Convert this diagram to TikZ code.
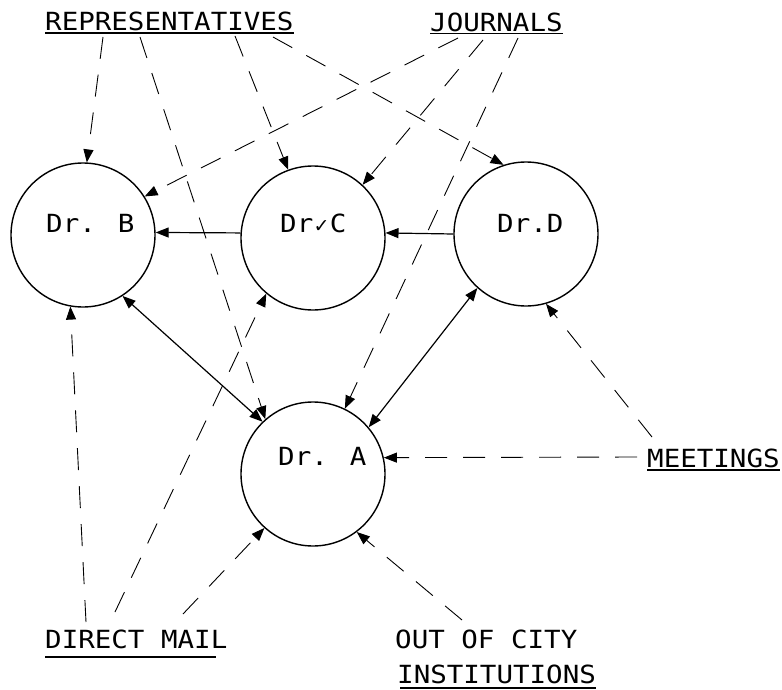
\documentclass[tikz,border=0pt]{standalone}
\usepackage{fontspec}
\newfontfamily\plotfont{DejaVu Sans Mono}[FakeStretch=1.1]
\newfontfamily\checkfont{DejaVu Sans}
\usetikzlibrary{arrows.meta}
\begin{document}
\begin{tikzpicture}[x=1pt,y=-1pt,
  doc/.style={circle,draw,line width=1.4pt,minimum size=144pt,inner sep=0pt},
  lbl/.style={font=\plotfont\fontsize{25}{30}\selectfont,inner sep=0pt,anchor=base west},
  tip/.style={},
  src/.style={line width=0.9pt,dash pattern=on 22pt off 16pt,-{Triangle[length=13pt,width=10pt]}},
  link/.style={line width=1.2pt,-{Triangle[length=13pt,width=10pt]}},
  both/.style={line width=1.2pt,{Triangle[length=13pt,width=10pt]}-{Triangle[length=13pt,width=10pt]}},
  uline/.style={line width=1.1pt}]
\useasboundingbox (0,0) rectangle (782,690);
% doctors
\node[doc] (B) at (83,235) {};
\node[doc] (C) at (313,238) {};
\node[doc] (D) at (526,234) {};
\node[doc] (A) at (313,474) {};
\node[lbl] (tB) at (46,232) {Dr. B};
\node[lbl] (tC) at (280,232) {Dr\makebox[16.5pt]{\checkfont\fontsize{19}{19}\selectfont ✓}C};
\node[lbl] (tD) at (497,232) {Dr.D};
\node[lbl] (tA) at (278,465) {Dr. A};
% sources
\node[lbl] (rep) at (45,31) {REPRESENTATIVES};
\node[lbl] (jour) at (430,32) {JOURNALS};
\node[lbl] (meet) at (647,467) {MEETINGS};
\node[lbl] (dm) at (45,648) {DIRECT MAIL};
\node[lbl] (out) at (395,648) {OUT OF CITY};
\node[lbl] (inst) at (397,683) {INSTITUTIONS};
\draw[uline] ([yshift=-2pt]rep.base west) -- ([yshift=-2pt]rep.base east);
\draw[uline] ([yshift=-1.5pt]jour.base west) -- ([yshift=-1.5pt]jour.base east);
\draw[uline] ([yshift=-3pt]meet.base west) -- ([yshift=-3pt]meet.base east);
\draw[uline] ([yshift=-9pt]dm.base west) -- ([xshift=-12pt,yshift=-9pt]dm.base east);
\draw[uline] ([xshift=3pt,yshift=-5pt]inst.base west) -- ([yshift=-5pt]inst.base east);
% start points
\coordinate (r1) at (103,37);
\coordinate (r2) at (140,37);
\coordinate (r3) at (235,36);
\coordinate (r4) at (273,37);
\coordinate (j1) at (458,38);
\coordinate (j2) at (483,40);
\coordinate (j3) at (518,38);
\coordinate (m1) at (652,437);
\coordinate (m2) at (637,457);
\coordinate (d1) at (86,622);
\coordinate (d2) at (115,612);
\coordinate (d3) at (183,614);
\coordinate (o1) at (462,620);
% dashed influences
\draw[src] (r1) -- (B.87);
\draw[src] (r2) -- (A.131);
\draw[src] (r3) -- (C.110);
\draw[src] (r4) -- (D.108);
\draw[src] (j1) -- (B.32);
\draw[src] (j2) -- (C.47);
\draw[src] (j3) -- (A.64);
\draw[src] (m1) -- (D.-74);
\draw[src] (m2) -- (A.13);
\draw[src] (d1) -- (B.-100);
\draw[src] (d2) -- (C.230);
\draw[src] (d3) -- (A.228);
\draw[src] (o1) -- (A.-53);
% solid links
\draw[link] (C.176) -- (B.2);
\draw[link] (D.180) -- (C.4);
\draw[both] (B.-57) -- (A.134);
\draw[both] (D.228) -- (A.40);
\end{tikzpicture}
\end{document}
